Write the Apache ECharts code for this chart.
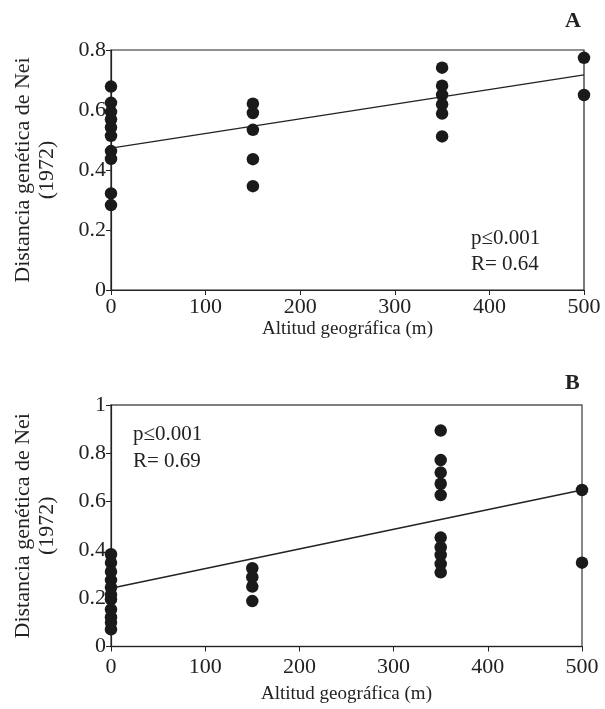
<!DOCTYPE html>
<html>
<head>
<meta charset="utf-8">
<script src="https://cdn.jsdelivr.net/npm/echarts@6/dist/echarts.min.js"></script>
<style>html,body{margin:0;padding:0;background:#fff}#c{width:605px;height:709px}</style>
</head>
<body>
<div id="c"></div>
<script>
// Panel A data: [altitude, Nei distance]
const altA = [0,0,0,0,0,0,0,0,0,0, 150,150,150,150,150, 350,350,350,350,350,350, 500,500];
const distA = [0.678,0.624,0.594,0.569,0.542,0.514,0.463,0.437,0.322,0.283,
               0.621,0.590,0.534,0.436,0.346,
               0.741,0.681,0.650,0.619,0.588,0.512,
               0.774,0.650];
const fitA_x = [0, 500];
const fitA_y = [0.473, 0.717];

// Panel B data
const altB = [0,0,0,0,0,0,0,0,0,0,0, 150,150,150,150, 350,350,350,350,350,350,350,350,350,350, 500,500];
const distB = [0.382,0.347,0.310,0.275,0.245,0.215,0.195,0.154,0.121,0.099,0.071,
               0.324,0.287,0.248,0.188,
               0.894,0.772,0.720,0.674,0.627,0.451,0.411,0.379,0.342,0.307,
               0.648,0.347];
const fitB_x = [0, 500];
const fitB_y = [0.241, 0.648];

const xTicks = [0,100,200,300,400,500];
const xTitle = 'Altitud geográfica (m)';
const yTitle = 'Distancia genética de Nei\n(1972)';
const statsA = 'p≤0.001\nR= 0.64';
const statsB = 'p≤0.001\nR= 0.69';

const zip = (a,b) => a.map((v,i)=>[v,b[i]]);
const FONT = 'Liberation Serif';
const TXT = '#222';

function xAxis(gridIndex, nameGap, margin){
  return {
    gridIndex, type:'value', min:0, max:500, interval:100,
    name:xTitle, nameLocation:'middle', nameGap,
    nameTextStyle:{fontFamily:FONT,fontSize:19,color:TXT},
    axisLine:{show:true,lineStyle:{color:'#222',width:1.2}},
    axisTick:{show:true,inside:false,length:5,lineStyle:{color:'#222'}},
    axisLabel:{fontFamily:FONT,fontSize:22,color:TXT,margin,
      formatter:v=>xTicks.includes(v)?String(v):''},
    splitLine:{show:false}
  };
}
function yAxis(gridIndex, max){
  return {
    gridIndex, type:'value', min:0, max, interval:0.2,
    name:yTitle, nameLocation:'middle', nameGap:52, nameRotate:90,
    nameTextStyle:{fontFamily:FONT,fontSize:22,color:TXT,lineHeight:24},
    axisLine:{show:true,lineStyle:{color:'#222',width:1.2}},
    axisTick:{show:true,inside:false,length:5,lineStyle:{color:'#222'}},
    axisLabel:{fontFamily:FONT,fontSize:22,color:TXT,margin:5,
      formatter:v=>(v===0||Math.abs(v-1)<1e-9)?String(Math.round(v)):v.toFixed(1)},
    splitLine:{show:false}
  };
}

const chart = echarts.init(document.getElementById('c'), null, {renderer:'canvas'});
chart.setOption({
  backgroundColor:'#fff',
  animation:false,
  grid:[
    {left:111, top:50, width:473, height:240, show:true, borderColor:'#222', borderWidth:1.2, backgroundColor:'transparent'},
    {left:111, top:405, width:471, height:241.5, show:true, borderColor:'#555', borderWidth:1.4, backgroundColor:'transparent'}
  ],
  xAxis:[xAxis(0,30,6), xAxis(1,38,10)],
  yAxis:[yAxis(0,0.8), yAxis(1,1)],
  series:[
    {type:'scatter', xAxisIndex:0, yAxisIndex:0, data:zip(altA,distA), symbolSize:12.5, clip:false,
     itemStyle:{color:'#1a1a1a', opacity:1}, z:3},
    {type:'line', xAxisIndex:0, yAxisIndex:0, data:zip(fitA_x,fitA_y), symbol:'none',
     lineStyle:{color:'#222',width:1.4}, z:2},
    {type:'scatter', xAxisIndex:1, yAxisIndex:1, data:zip(altB,distB), symbolSize:12.5, clip:false,
     itemStyle:{color:'#1a1a1a', opacity:1}, z:3},
    {type:'line', xAxisIndex:1, yAxisIndex:1, data:zip(fitB_x,fitB_y), symbol:'none',
     lineStyle:{color:'#222',width:1.4}, z:2}
  ],
  graphic:[
    {type:'text', left:565, top:10, style:{text:'A', font:'bold 22px "Liberation Serif"', fill:'#222'}},
    {type:'text', left:565, top:372, style:{text:'B', font:'bold 22px "Liberation Serif"', fill:'#222'}},
    {type:'text', left:471, top:225, style:{text:statsA, font:'21px "Liberation Serif"', fill:'#222', lineHeight:26}},
    {type:'text', left:133, top:421, style:{text:statsB, font:'21px "Liberation Serif"', fill:'#222', lineHeight:27}}
  ]
});
</script>
</body>
</html>
